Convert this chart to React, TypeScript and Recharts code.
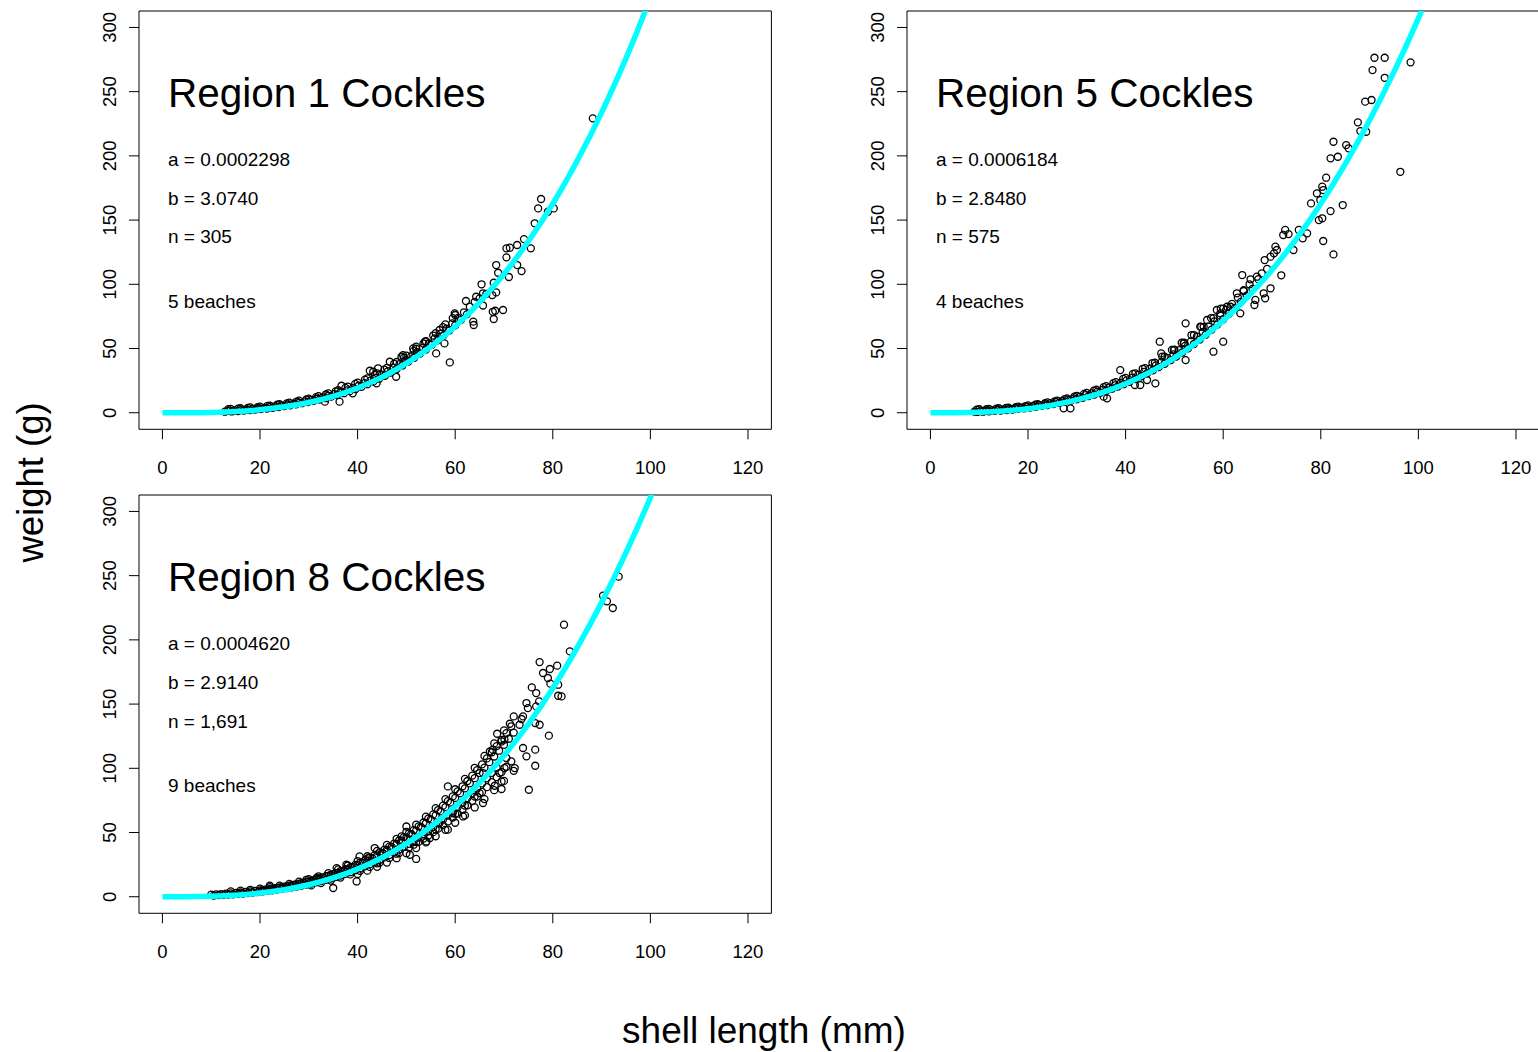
import React from "react";
import { ComposedChart, Scatter, Line, XAxis, YAxis, ReferenceArea } from "recharts";

const FONT = '"Liberation Sans", Arial, Helvetica, sans-serif';
const CYAN = "#00ffff";

const X_TICKS = [0, 20, 40, 60, 80, 100, 120];
const Y_TICKS = [0, 50, 100, 150, 200, 250, 300];
const X_DOMAIN = [-4.8, 124.8];
const Y_DOMAIN = [-12.9, 312.8];

// fitted length-weight curves, every 5 mm
const FIT_LENGTH = [0, 5, 10, 15, 20, 25, 30, 35, 40, 45, 50, 55, 60, 65, 70, 75, 80, 85, 90, 95, 100, 105];
const R1_FIT = [0, 0.03, 0.27, 0.95, 2.3, 4.6, 8.0, 12.8, 19.3, 27.7, 38.4, 51.4, 67.2, 86.0, 108, 133.5, 162.7, 196.2, 233.7, 275.9, 323.1, 375.7];
const R5_FIT = [0, 0.06, 0.44, 1.38, 3.14, 5.93, 9.97, 15.5, 22.6, 31.6, 42.6, 56.0, 71.7, 90.1, 111.2, 135.4, 162.8, 193.6, 227.8, 265.4, 307.1, 353];
const R8_FIT = [0, 0.05, 0.38, 1.24, 2.86, 5.48, 9.31, 14.6, 21.6, 30.4, 41.3, 54.5, 70.2, 88.6, 110, 134.4, 162.3, 194, 229, 267.9, 310.9, 358.8];

// observed cockles [shell length mm, weight g]
const R1_POINTS = [
  [12.8, 0.8], [13.5, 1.4], [14.2, 1.0], [14.8, 1.8], [15.5, 1.3], [16.0, 2.1], [16.7, 1.7], [17.3, 2.5], [17.9, 2.0], [18.5, 2.9],
  [19.0, 2.4], [19.6, 3.3], [20.2, 2.9], [20.8, 3.8], [21.4, 3.3], [22.0, 4.3], [22.6, 3.8], [23.2, 4.9], [23.8, 4.4], [24.4, 5.6],
  [25.0, 5.1], [25.6, 6.3], [26.2, 5.8], [26.8, 7.0], [27.4, 6.5], [28.0, 7.9], [28.6, 7.4], [29.2, 8.8], [29.8, 8.3], [30.4, 9.8],
  [31.0, 9.2], [31.6, 10.9], [32.2, 10.3], [32.8, 11.9], [33.3, 8.6], [33.5, 11.3], [34.0, 13.2], [34.6, 12.5], [35.2, 14.5], [35.8, 13.8],
  [36.3, 8.6], [36.7, 21.0], [36.5, 16.0], [37.2, 15.2], [37.8, 17.4], [38.4, 16.8], [39.0, 15.1], [39.0, 19.2], [39.6, 18.4], [40.2, 21.0],
  [40.8, 20.2], [41.4, 23.0], [42.0, 22.2], [42.5, 32.7], [42.6, 25.0], [43.2, 24.2], [43.2, 31.9], [43.9, 22.9], [43.8, 27.2], [44.2, 34.6],
  [44.4, 26.5], [45.0, 29.6], [45.6, 28.8], [46.2, 32.3], [46.6, 39.7], [46.8, 31.2], [47.4, 35.0], [47.9, 28.0], [48.0, 34.0], [48.6, 37.9],
  [49.0, 43.6], [49.2, 36.8], [49.3, 44.9], [49.8, 40.8], [50.4, 39.9], [51.0, 44.0], [51.4, 50.1], [51.6, 42.8], [52.0, 51.4], [52.2, 47.2],
  [52.8, 46.0], [53.4, 50.5], [53.8, 55.3], [54.0, 49.2], [54.6, 54.0], [55.2, 52.8], [55.8, 57.8], [56.1, 46.2], [56.4, 56.4], [56.8, 64.4],
  [57.0, 61.5], [57.6, 60.2], [57.8, 54.0], [58.2, 65.4], [58.8, 64.0], [58.9, 39.2], [59.4, 69.5], [59.9, 77.4], [60.0, 68.0], [60.6, 73.8],
  [61.2, 72.3], [61.8, 78.2], [62.2, 87.0], [62.4, 76.6], [63.0, 82.6], [63.7, 70.9], [63.8, 68.3], [64.0, 86.2], [64.3, 90.3], [65.0, 89.0],
  [65.4, 100.0], [65.7, 93.0], [65.7, 83.5], [66.4, 92.6], [67.6, 91.6], [67.7, 78.6], [67.9, 101.2], [67.9, 73.0], [68.2, 79.4], [68.4, 115.0],
  [68.4, 93.7], [68.8, 109.0], [69.8, 80.0], [70.5, 128.0], [70.5, 121.0], [71.0, 105.7], [71.2, 128.5], [72.7, 130.6], [72.7, 115.0], [73.6, 110.3],
  [74.1, 135.2], [75.5, 128.0], [76.3, 147.5], [77.0, 159.1], [77.6, 166.4], [79.0, 156.5], [80.2, 159.1], [88.2, 229.2],
  [13.5, 2.8], [15.5, 3.2], [17.5, 3.8], [19.5, 4.4], [21.5, 5.3], [23.5, 6.2], [25.5, 7.3], [27.5, 8.7], [29.5, 10.3], [31.5, 12.1],
  [33.5, 14.2], [35.5, 16.6], [37.5, 19.4], [39.5, 22.4], [41.5, 25.8], [43.5, 29.5], [45.5, 33.6], [47.5, 38.1], [49.5, 42.9], [51.5, 48.2],
  [53.5, 53.9], [55.5, 60.1], [57.5, 66.7], [59.5, 73.7],
  [14, 3.0], [16, 3.5], [18, 4.1], [20, 4.7], [22, 5.6], [24, 6.6], [26, 7.9], [28, 9.4], [30, 11.0], [32, 12.9],
  [34, 15.1], [36, 17.5], [38, 20.4], [40, 23.4], [42, 26.8], [44, 30.7], [46, 34.9], [48, 39.5], [50, 44.4], [52, 49.8],
  [54, 55.7], [56, 62.0], [58, 68.8], [60, 76.1],
];

const R5_POINTS = [
  [9.0, 0.9], [9.6, 0.6], [10.2, 1.2], [10.8, 0.8], [11.4, 1.5], [12.0, 1.1], [12.6, 1.8], [13.2, 1.4], [13.8, 2.2], [14.4, 1.7],
  [15.0, 2.6], [15.6, 2.1], [16.2, 3.0], [16.8, 2.5], [17.4, 3.5], [18.0, 3.0], [18.6, 4.0], [19.2, 3.5], [19.8, 4.6], [20.4, 4.0],
  [21.0, 5.2], [21.6, 4.6], [22.2, 5.9], [22.8, 5.3], [23.4, 6.6], [24.0, 6.0], [24.6, 7.4], [25.2, 6.8], [25.8, 8.2], [26.4, 7.6],
  [27.0, 9.1], [27.3, 3.4], [27.6, 8.5], [28.2, 10.1], [28.7, 3.4], [28.8, 9.4], [29.4, 11.2], [30.0, 10.5], [30.6, 12.4], [31.2, 11.6],
  [31.8, 13.7], [32.4, 12.9], [33.0, 15.0], [33.6, 14.2], [34.2, 16.4], [34.8, 15.6], [35.5, 12.5], [35.4, 18.0], [36.0, 17.1], [36.2, 11.2],
  [36.6, 19.6], [37.2, 18.7], [37.8, 21.3], [38.4, 20.4], [38.9, 33.2], [39.0, 23.2], [39.6, 22.2], [40.2, 25.2], [40.8, 24.1], [41.4, 27.3],
  [41.9, 21.6], [42.0, 26.2], [42.6, 29.5], [43.0, 21.6], [43.2, 28.4], [43.8, 31.8], [44.4, 25.5], [44.4, 30.6], [45.0, 34.3], [45.6, 33.0],
  [46.1, 22.9], [46.2, 36.9], [46.8, 35.5], [47.0, 55.3], [47.3, 46.2], [47.4, 39.6], [48.0, 38.1], [48.6, 42.5], [49.2, 40.9], [49.9, 48.8],
  [49.8, 45.5], [50.4, 43.8], [51.0, 48.7], [51.6, 46.9], [51.9, 54.0], [52.3, 69.6], [52.3, 41.0], [52.2, 52.0], [52.8, 50.1], [53.4, 55.5],
  [54.0, 53.5], [54.6, 59.2], [55.2, 57.0], [55.3, 67.0], [55.8, 63.0], [56.4, 60.7], [56.7, 72.2], [57.0, 67.0], [57.6, 64.6], [58.0, 47.5],
  [58.2, 71.2], [58.7, 80.0], [58.8, 68.6], [59.4, 77.4], [59.4, 75.6], [60.0, 55.3], [60.0, 72.8], [60.6, 80.1], [60.8, 82.5], [61.2, 77.1],
  [61.5, 82.5], [61.8, 84.8], [62.4, 81.6], [62.8, 93.0], [63.0, 89.7], [63.5, 77.4], [63.6, 86.3], [63.9, 107.2], [64.2, 95.5], [64.2, 94.8],
  [64.8, 91.2], [65.4, 100.0], [65.6, 103.9], [66.0, 96.4], [66.4, 83.9], [66.6, 87.8], [66.9, 105.9], [67.2, 104.0], [67.9, 108.5], [68.3, 93.0],
  [68.5, 118.9], [68.6, 89.1], [69.0, 112.0], [69.7, 121.5], [69.7, 96.9], [70.4, 124.1], [70.7, 129.3], [71.0, 126.7], [71.9, 107.0], [72.3, 138.4],
  [72.7, 142.3], [73.4, 139.1], [74.4, 126.7], [75.5, 142.3], [76.3, 135.8], [77.2, 139.7], [78.0, 163.0], [79.2, 170.8], [79.6, 150.0], [79.9, 165.6],
  [80.3, 176.0], [80.3, 151.4], [80.5, 173.4], [80.5, 133.7], [81.1, 183.0], [82.0, 198.1], [82.0, 157.0], [82.6, 211.0], [82.6, 123.3], [83.5, 199.3],
  [84.5, 161.7], [85.2, 208.4], [85.7, 205.9], [87.6, 226.1], [88.1, 219.3], [89.1, 242.2], [89.3, 218.8], [90.4, 243.5], [90.6, 266.8], [91.0, 276.4],
  [93.1, 276.4], [93.1, 260.8], [96.3, 187.6], [98.4, 272.8],
  [9.5, 2.4], [11.5, 2.7], [13.5, 3.1], [15.5, 3.7], [17.5, 4.4], [19.5, 5.2], [21.5, 6.2], [23.5, 7.4], [25.5, 8.9], [27.5, 10.6],
  [29.5, 12.5], [31.5, 14.7], [33.5, 17.2], [35.5, 19.9], [37.5, 23.0], [39.5, 26.4], [41.5, 30.2], [43.5, 34.2], [45.5, 38.7], [47.5, 43.7],
  [49.5, 48.9], [51.5, 54.5], [53.5, 60.5], [55.5, 66.9], [57.5, 73.7], [59.5, 81.0],
  [10, 2.7], [12, 3.0], [14, 3.5], [16, 4.0], [18, 4.8], [20, 5.7], [22, 6.7], [24, 8.0], [26, 9.5], [28, 11.2],
  [30, 13.2], [32, 15.4], [34, 17.9], [36, 20.7], [38, 23.8], [40, 27.1], [42, 30.7], [44, 34.7], [46, 38.9], [48, 43.6],
  [50, 49.1], [52, 54.5], [54, 60.5], [56, 66.9], [58, 73.7], [60, 81.1],
];

const R8_POINTS = [
  [10.0, 1.6], [10.5, 0.9], [11.0, 1.9], [11.5, 1.2], [12.0, 2.1], [12.5, 1.4], [13.0, 2.4], [13.5, 1.6], [14.0, 2.6], [14.5, 1.9],
  [15.0, 3.0], [15.5, 2.2], [16.0, 3.3], [16.5, 2.5], [17.0, 3.8], [17.5, 2.9], [18.0, 4.1], [18.5, 3.3], [19.0, 4.6], [19.5, 3.6],
  [20.0, 5.0], [20.5, 4.1], [21.0, 5.6], [21.5, 4.5], [22.0, 8.6], [22.0, 6.0], [22.5, 5.0], [23.0, 6.6], [23.5, 5.6], [24.0, 7.2],
  [24.5, 6.1], [25.0, 7.9], [25.5, 6.7], [26.0, 8.6], [26.5, 7.3], [27.0, 9.4], [27.5, 8.0], [28.0, 10.2], [28.5, 8.7], [29.0, 11.0],
  [29.5, 13.2], [29.5, 9.4], [30.0, 11.9], [30.5, 10.3], [31.0, 12.8], [31.6, 14.6], [31.5, 11.2], [32.0, 13.8], [32.5, 12.1], [33.0, 15.0],
  [33.5, 13.1], [34.0, 16.2], [34.5, 14.2], [35.0, 6.8], [35.0, 17.4], [35.5, 15.3], [35.7, 22.3], [36.0, 18.6], [36.5, 16.5], [37.0, 20.0],
  [37.5, 17.8], [37.7, 24.9], [38.0, 21.4], [38.5, 19.1], [39.0, 23.0], [39.5, 20.6], [39.8, 11.9], [40.0, 24.6], [40.4, 31.4], [40.5, 22.0],
  [41.0, 26.3], [41.5, 23.6], [42.0, 28.0], [42.1, 30.1], [42.5, 25.2], [43.0, 30.0], [43.5, 37.9], [43.5, 27.0], [44.0, 32.0], [44.0, 26.0],
  [44.5, 28.8], [45.0, 34.2], [45.2, 34.0], [45.5, 30.6], [46.0, 36.4], [46.5, 32.4], [47.0, 38.8], [47.5, 34.5], [48.0, 41.2], [48.0, 33.5],
  [48.5, 36.7], [49.0, 47.0], [49.0, 43.6], [49.5, 38.9], [50.0, 54.7], [50.0, 46.2], [50.5, 41.2], [50.7, 44.4], [50.7, 32.7], [51.0, 48.8],
  [51.5, 43.6], [52.0, 29.4], [52.0, 51.5], [52.0, 42.5], [52.5, 46.1], [53.0, 54.3], [53.5, 48.7], [54.1, 43.1], [54.0, 57.2], [54.5, 51.4],
  [54.8, 45.7], [55.0, 60.2], [55.5, 54.2], [56.0, 63.3], [56.0, 52.5], [56.5, 57.1], [56.8, 57.4], [57.0, 66.5], [57.5, 60.1], [58.0, 69.8],
  [58.5, 52.2], [58.5, 63.2], [58.5, 85.9], [59.0, 73.3], [59.5, 65.2], [59.5, 66.4], [60.0, 76.9], [60.0, 64.5], [60.5, 69.7], [61.0, 80.6],
  [61.5, 73.2], [61.6, 62.5], [62.0, 84.4], [62.0, 71.0], [62.5, 76.8], [63.0, 88.3], [63.5, 80.5], [64.0, 92.3], [64.0, 78.0], [64.5, 84.3],
  [65.0, 96.3], [65.0, 80.7], [65.5, 88.2], [65.7, 96.3], [65.7, 73.0], [66.0, 100.5], [66.5, 92.2], [67.0, 104.8], [67.1, 113.1], [67.5, 96.4],
  [67.7, 114.5], [68.0, 109.2], [68.1, 86.4], [68.5, 100.6], [68.6, 126.9], [69.0, 113.7], [69.1, 96.3], [69.5, 120.9], [69.5, 89.8], [69.5, 83.9],
  [70.0, 118.3], [70.1, 122.3], [70.1, 100.2], [70.5, 108.0], [71.2, 134.7], [71.0, 123.0], [72.2, 100.2], [72.0, 127.8], [73.2, 133.9], [73.6, 138.4],
  [73.9, 140.4], [73.9, 115.8], [74.6, 150.8], [74.6, 109.3], [74.9, 146.9], [75.1, 83.3], [75.7, 163.0], [76.4, 135.2], [76.4, 114.5], [76.4, 102.0],
  [76.6, 158.6], [76.6, 148.2], [77.2, 152.1], [77.3, 182.7], [77.3, 133.9], [78.0, 174.2], [79.0, 170.3], [79.2, 125.4], [79.4, 177.3], [79.5, 165.9],
  [80.9, 179.9], [81.1, 165.1], [81.1, 156.5], [81.8, 156.0], [82.3, 211.8], [83.5, 191.0], [90.3, 234.4], [91.1, 230.0], [92.3, 224.8], [93.5, 249.2],
  // thick band either side of the fit
  [20.5, 5.0], [21.5, 5.4], [22.5, 6.0], [23.5, 6.7], [24.5, 7.3], [25.5, 8.0], [26.5, 8.8], [27.5, 9.6], [28.5, 10.5], [29.5, 11.5],
  [30.5, 12.5], [31.5, 13.6], [32.5, 14.7], [33.5, 16.0], [34.5, 17.2], [35.5, 18.5], [36.5, 20.0], [37.5, 21.5], [38.5, 23.1], [39.5, 24.8],
  [40.5, 26.6], [41.5, 28.5], [42.5, 30.4], [43.5, 32.4], [44.5, 34.5], [45.5, 36.7], [46.5, 39.0], [47.5, 41.4], [48.5, 43.8], [49.5, 46.4],
  [50.5, 49.1], [51.5, 51.9], [52.5, 54.8], [53.5, 57.8], [54.5, 60.9], [55.5, 64.1], [56.5, 67.5], [57.5, 70.9], [58.5, 74.4], [59.5, 78.1],
  [60.5, 82.0], [61.5, 86.0], [62.5, 90.1], [63.5, 94.3], [64.5, 98.6], [65.5, 103.1], [66.5, 107.7], [67.5, 112.5], [68.5, 117.3], [69.5, 122.2],
  [70.5, 127.4], [71.5, 132.7],
  [14, 4.2], [16, 4.7], [18, 5.4], [20, 6.3], [22, 7.4], [24, 8.6], [26, 10.0], [28, 11.7], [30, 13.7], [32, 15.9],
  [34, 18.4], [36, 21.3], [38, 24.3], [40, 27.8], [42, 31.5], [44, 35.7], [46, 40.3], [48, 45.1], [50, 50.5], [52, 56.1],
  [54, 62.3], [56, 69.0], [58, 76.0], [60, 83.7], [62, 91.8], [64, 100.4], [66, 109.6], [68, 119.4], [70, 129.5], [72, 140.4],
  [30.5, 8.8], [32.5, 10.6], [34.5, 12.6], [36.5, 14.9], [38.5, 17.4], [40.5, 20.2], [42.5, 23.2], [44.5, 26.6], [46.5, 30.2], [48.5, 34.0],
  [50.5, 38.3], [51.5, 40.5], [52.5, 42.8], [53.5, 45.3], [54.5, 47.7], [55.5, 50.3], [56.5, 53.0], [57.5, 55.8], [58.5, 58.6], [59.5, 61.6],
  [60.5, 64.7], [61.5, 67.9], [62.5, 71.2], [63.5, 74.6], [64.5, 78.0], [65.5, 81.6], [66.5, 85.3], [67.5, 89.2], [68.5, 93.1], [69.5, 97.0],
  [70.5, 101.2], [71.5, 105.4],
  [40, 17.7], [42, 20.3], [44, 23.3], [46, 26.6], [48, 30.0], [50, 33.9], [52, 37.9], [54, 42.3], [56, 47.1], [58, 52.1],
  [60, 57.6], [62, 63.3], [64, 69.5], [66, 76.0], [68, 83.0], [70, 90.2], [72, 98.0],
];

const PANELS = [
  { title: "Region 1 Cockles", a: "a = 0.0002298", b: "b = 3.0740", n: "n = 305", beaches: "5 beaches", points: R1_POINTS, fit: R1_FIT, dx: 0, dy: 0 },
  { title: "Region 5 Cockles", a: "a = 0.0006184", b: "b = 2.8480", n: "n = 575", beaches: "4 beaches", points: R5_POINTS, fit: R5_FIT, dx: 768, dy: 0 },
  { title: "Region 8 Cockles", a: "a = 0.0004620", b: "b = 2.9140", n: "n = 1,691", beaches: "9 beaches", points: R8_POINTS, fit: R8_FIT, dx: 0, dy: 484.3 },
];

// plot box of the first panel, page pixels
const BOX_X = 139.3;
const BOX_Y = 11;
const BOX_W = 632.4;
const BOX_H = 418.3;
const PAD_L = 80;
const PAD_T = 10;
const PAD_R = 10;
const PAD_B = 60;

function XTick(props: any) {
  const { x, payload } = props;
  const y0 = PAD_T + BOX_H;
  return (
    <g>
      <line x1={x} x2={x} y1={y0} y2={y0 + 10} stroke="#000" strokeWidth={1} />
      <text x={x} y={y0 + 44.5} textAnchor="middle" fontSize={18.5} fontFamily={FONT} fill="#000">
        {payload.value}
      </text>
    </g>
  );
}

function YTick(props: any) {
  const { y, payload } = props;
  const tx = PAD_L - 22.8;
  return (
    <g>
      <line x1={PAD_L - 10} x2={PAD_L} y1={y} y2={y} stroke="#000" strokeWidth={1} />
      <text x={tx} y={y} transform={`rotate(-90 ${tx} ${y})`} textAnchor="middle" fontSize={18.5} fontFamily={FONT} fill="#000">
        {payload.value}
      </text>
    </g>
  );
}

const Ring = (p: any) => <circle cx={p.cx} cy={p.cy} r={3.5} fill="none" stroke="#000" strokeWidth={1.3} />;

function Panel({ panel }: { panel: (typeof PANELS)[number] }) {
  const pts = panel.points.map(([x, y]) => ({ x, y }));
  const fit = FIT_LENGTH.map((x, i) => ({ x, y: panel.fit[i] }));
  return (
    <div style={{ position: "absolute", left: BOX_X - PAD_L + panel.dx, top: BOX_Y - PAD_T + panel.dy }}>
      <ComposedChart
        width={PAD_L + BOX_W + PAD_R}
        height={PAD_T + BOX_H + PAD_B}
        margin={{ top: PAD_T, right: PAD_R, bottom: 0, left: 0 }}
      >
        <XAxis
          type="number"
          dataKey="x"
          domain={X_DOMAIN}
          ticks={X_TICKS}
          allowDataOverflow
          height={PAD_B}
          axisLine={false}
          tickLine={false}
          tick={<XTick />}
          interval={0}
        />
        <YAxis
          type="number"
          dataKey="y"
          domain={Y_DOMAIN}
          ticks={Y_TICKS}
          allowDataOverflow
          width={PAD_L}
          axisLine={false}
          tickLine={false}
          tick={<YTick />}
          interval={0}
        />
        <ReferenceArea x1={X_DOMAIN[0]} x2={X_DOMAIN[1]} y1={Y_DOMAIN[0]} y2={Y_DOMAIN[1]} fill="none" stroke="#000" strokeWidth={1} />
        <Scatter data={pts} dataKey="y" shape={Ring} isAnimationActive={false} zIndex={400} />
        <Line
          data={fit}
          dataKey="y"
          type="monotone"
          stroke={CYAN}
          strokeWidth={5.5}
          dot={false}
          activeDot={false}
          isAnimationActive={false}
          zIndex={900}
        />
      </ComposedChart>
    </div>
  );
}

export default function App() {
  return (
    <div style={{ position: "fixed", left: 0, top: 0, width: 1538, height: 1052, background: "#fff", overflow: "hidden" }}>
      {PANELS.map((p) => (
        <Panel key={p.title} panel={p} />
      ))}
      <svg width={1538} height={1052} style={{ position: "absolute", left: 0, top: 0, pointerEvents: "none" }} fontFamily={FONT} fill="#000">
        {PANELS.map((p) => (
          <g key={p.title} transform={`translate(${p.dx} ${p.dy})`}>
            <text x={168} y={107} fontSize={40.5}>{p.title}</text>
            <text x={168} y={166} fontSize={19}>{p.a}</text>
            <text x={168} y={205} fontSize={19}>{p.b}</text>
            <text x={168} y={243.3} fontSize={19}>{p.n}</text>
            <text x={168} y={307.7} fontSize={19}>{p.beaches}</text>
          </g>
        ))}
        <text x={764} y={1043.3} fontSize={37} textAnchor="middle">shell length (mm)</text>
        <text x={42.7} y={482.5} fontSize={36.5} textAnchor="middle" transform="rotate(-90 42.7 482.5)">weight (g)</text>
      </svg>
    </div>
  );
}
